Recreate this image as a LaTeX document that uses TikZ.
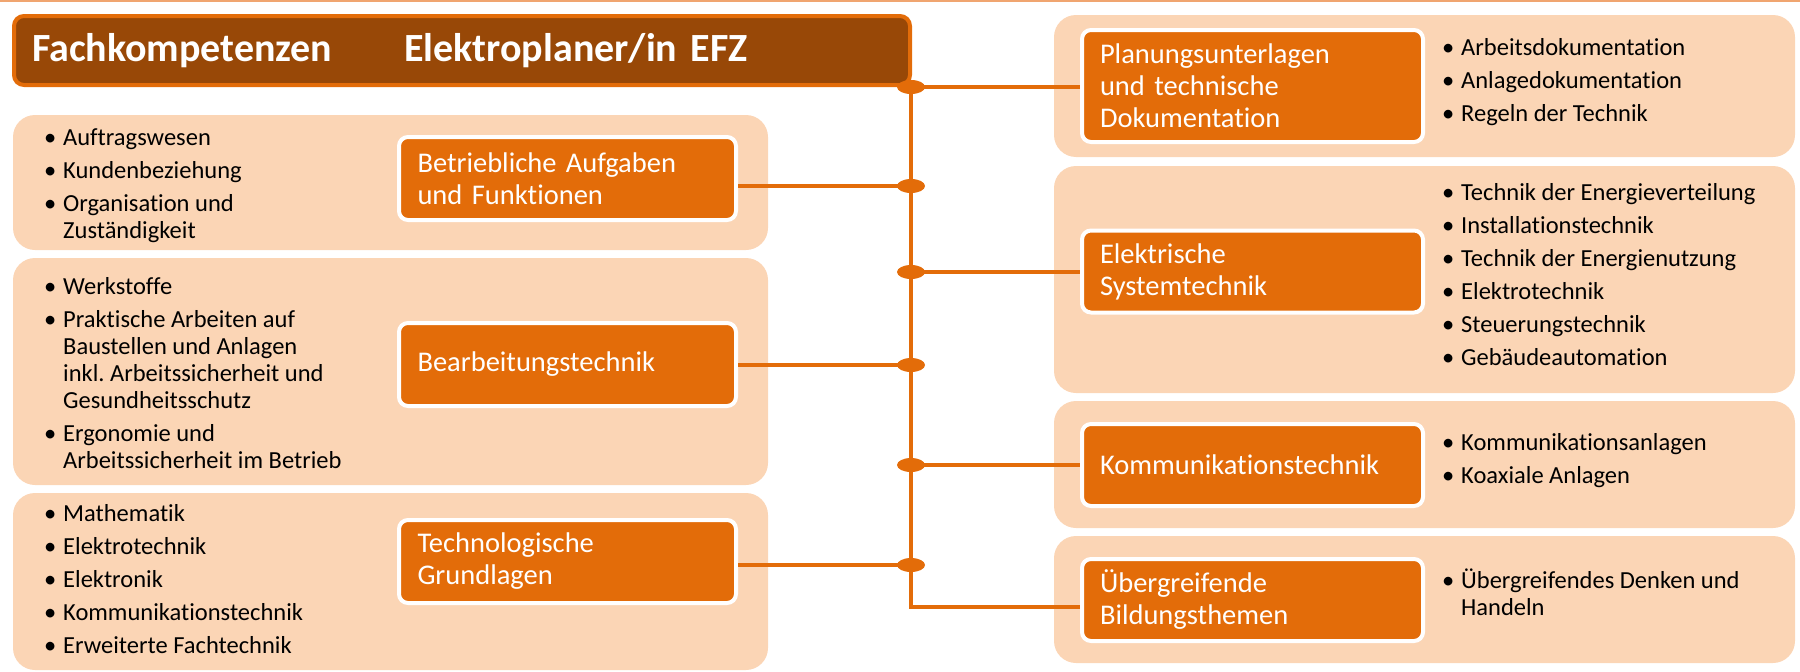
\documentclass[tikz,border=0pt]{standalone}
\usepackage{fontspec}
\setmainfont{Carlito}[Ligatures=NoCommon]
\usetikzlibrary{positioning, calc, shapes}
\frenchspacing

\definecolor{peach}{HTML}{FBD5B5}
\definecolor{fkorange}{HTML}{E36C09}
\definecolor{fkbrown}{HTML}{984807}
\definecolor{fkline}{HTML}{F0A570}

\newcommand{\bul}{\makebox[19pt][l]{\textbullet}}
\newcommand{\ind}{\hspace*{19pt}}

\tikzset{
  panel/.style={fill=peach, rounded corners=22pt, inner sep=0pt},
  topic/.style={fill=fkorange, draw=white, line width=4pt, rounded corners=9pt,
    text=white, align=left, inner ysep=0pt,
    font=\fontsize{28.5}{32}\selectfont},
  leftopic/.style={topic, minimum width=337pt, minimum height=83pt, text width=300pt},
  rightopic/.style={topic, minimum width=341pt, minimum height=82pt, text width=305pt},
  items/.style={anchor=north west, inner sep=0pt, align=left,
    font=\fontsize{24.5}{27}\selectfont, execute at begin node=\strut},
  head/.style={fill=fkbrown, draw=fkorange, line width=4pt, rounded corners=10pt,
    minimum width=896pt, minimum height=69pt, text width=860pt, align=left,
    text=white, inner ysep=0pt, font=\bfseries\fontsize{40}{44}\selectfont},
  conn/.style={draw=fkorange, line width=4pt},
  joint/.style={ellipse, fill=fkorange, minimum width=28pt, minimum height=14pt, inner sep=0pt}
}

\begin{document}
\begin{tikzpicture}[x=1pt, y=-1pt]
    \useasboundingbox (0,0) rectangle (1800,672);
    \draw[fkline, line width=2pt] (0,1) -- (1800,1);

    % panels
    \node[panel, minimum width=755pt, minimum height=135pt] (lp1) at (390.5,182.5) {};
    \node[panel, minimum width=755pt, minimum height=227pt] (lp2) at (390.5,371.5) {};
    \node[panel, minimum width=755pt, minimum height=177pt] (lp3) at (390.5,581.5) {};
    \node[panel, minimum width=741pt, minimum height=142pt] (rp1) at (1424.5,86) {};
    \node[panel, minimum width=741pt, minimum height=227pt] (rp2) at (1424.5,279.5) {};
    \node[panel, minimum width=741pt, minimum height=127pt] (rp3) at (1424.5,464.5) {};
    \node[panel, minimum width=741pt, minimum height=127pt] (rp4) at (1424.5,599.5) {};

    \node[head] (head) at (462,50.5) {Fachkompetenzen\hspace{72pt}Elektroplaner/in EFZ};

    % topics
    \node[leftopic] (betrieb) at (567.5,178.5) {Betriebliche Aufgaben\\und Funktionen};
    \node[leftopic] (bearb) at (567.5,364.5) {Bearbeitungstechnik};
    \node[leftopic] (techno) at (567.5,561.5) {Technologische\\Grundlagen};
    \node[rightopic, minimum height=112pt] (plan) at (1252.5,86) {Planungsunterlagen\\und technische\\Dokumentation};
    \node[rightopic] (elek) at (1252.5,271.5) {Elektrische\\Systemtechnik};
    \node[rightopic] (komm) at (1252.5,465) {Kommunikationstechnik};
    \node[rightopic] (ueber) at (1252.5,600) {Übergreifende\\Bildungsthemen};

    % items
    \node[items] (betriebitems) at (44,128.1) {\bul Auftragswesen\\[6pt]\bul Kundenbeziehung\\[6pt]\bul Organisation und\\\ind Zuständigkeit};
    \node[items] (bearbitems) at (44,277.1) {\bul Werkstoffe\\[6pt]\bul Praktische Arbeiten auf\\\ind Baustellen und Anlagen\\\ind inkl. Arbeitssicherheit und\\\ind Gesundheitsschutz\\[6pt]\bul Ergonomie und\\\ind Arbeitssicherheit im Betrieb};
    \node[items] (technoitems) at (44,504.1) {\bul Mathematik\\[6pt]\bul Elektrotechnik\\[6pt]\bul Elektronik\\[6pt]\bul Kommunikationstechnik\\[6pt]\bul Erweiterte Fachtechnik};
    \node[items] (planitems) at (1442,38.1) {\bul Arbeitsdokumentation\\[6pt]\bul Anlagedokumentation\\[6pt]\bul Regeln der Technik};
    \node[items] (elekitems) at (1442,183.1) {\bul Technik der Energieverteilung\\[6pt]\bul Installationstechnik\\[6pt]\bul Technik der Energienutzung\\[6pt]\bul Elektrotechnik\\[6pt]\bul Steuerungstechnik\\[6pt]\bul Gebäudeautomation};
    \node[items] (kommitems) at (1442,433.1) {\bul Kommunikationsanlagen\\[6pt]\bul Koaxiale Anlagen};
    \node[items] (ueberitems) at (1442,569.1) {\bul Übergreifendes Denken und\\\ind Handeln};

    % connectors
    \coordinate (j1) at (911,87);
    \coordinate (j2) at (911,186);
    \coordinate (j3) at (911,272);
    \coordinate (j4) at (911,365);
    \coordinate (j5) at (911,465);
    \coordinate (j6) at (911,565);
    \coordinate (tend) at (911,607);
    \draw[conn] (j1) -- (tend) -- (tend -| ueber.west);
    \draw[conn] (j1) -- (j1 -| plan.west);
    \draw[conn] (j2) -- (j2 -| betrieb.east);
    \draw[conn] (j3) -- (j3 -| elek.west);
    \draw[conn] (j4) -- (j4 -| bearb.east);
    \draw[conn] (j5) -- (j5 -| komm.west);
    \draw[conn] (j6) -- (j6 -| techno.east);
    \foreach \j in {j1,j2,j3,j4,j5,j6}
        \node[joint] at (\j) {};
\end{tikzpicture}
\end{document}
